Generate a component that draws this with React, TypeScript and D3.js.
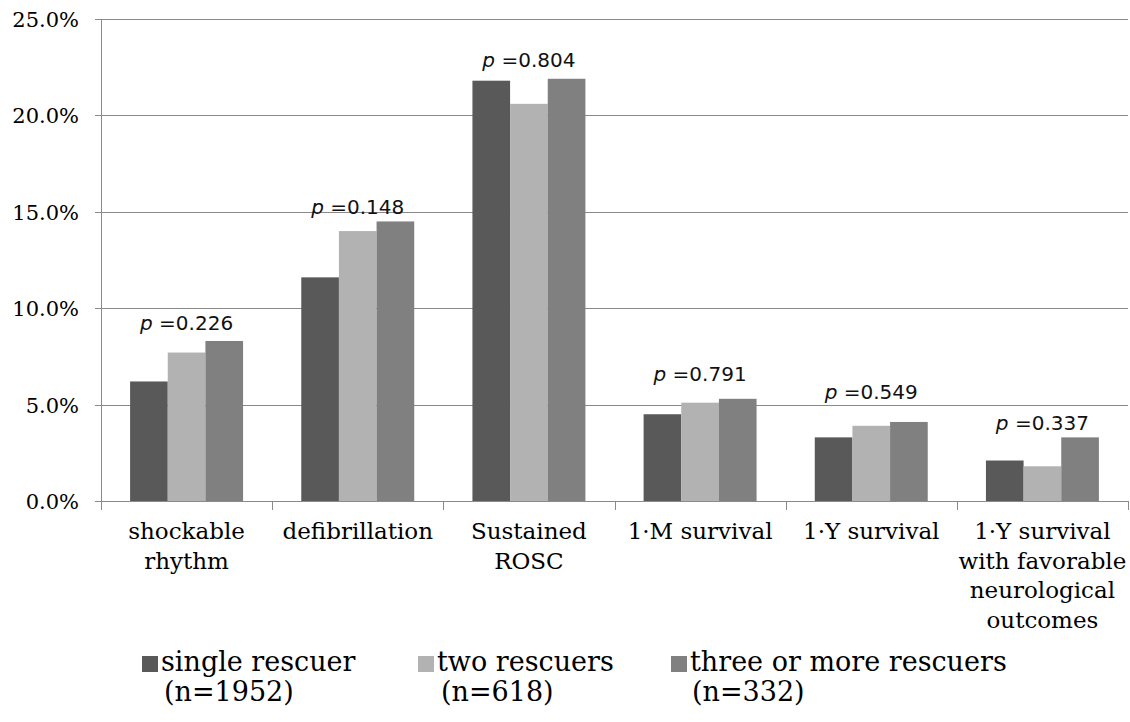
import React from "react";
import * as d3 from "d3";

const categories: string[][] = [
  ["shockable", "rhythm"],
  ["defibrillation"],
  ["Sustained", "ROSC"],
  ["1·M survival"],
  ["1·Y survival"],
  ["1·Y survival", "with favorable", "neurological", "outcomes"],
];
const seriesNames = ["single rescuer", "two rescuers", "three or more rescuers"];
const seriesN = ["(n=1952)", "(n=618)", "(n=332)"];
const single = [6.2, 11.6, 21.8, 4.5, 3.3, 2.1];
const two = [7.7, 14.0, 20.6, 5.1, 3.9, 1.8];
const threePlus = [8.3, 14.5, 21.9, 5.3, 4.1, 3.3];
const pValues = ["0.226", "0.148", "0.804", "0.791", "0.549", "0.337"];
const pLabelLevel = [8.85, 14.9, 22.5, 6.2, 5.27, 3.68];
const yTicks = [0, 5, 10, 15, 20, 25];

const colors = ["#595959", "#b2b2b2", "#808080"];

export default function App() {
  const W = 1130, H = 722;
  const left = 101, right = 1128, top = 19, bottom = 501;
  const series = [single, two, threePlus];
  const keys = categories.map((_, i) => String(i));
  const x0 = d3.scaleBand<string>().domain(keys).range([left, right]).paddingInner(0.34).paddingOuter(0.17);
  const x1 = d3.scaleBand<string>().domain(["0", "1", "2"]).range([0, x0.bandwidth()]).padding(0);
  const y = d3.scaleLinear().domain([0, 25]).range([bottom, top]);
  const step = x0.step();
  const serif = "'DejaVu Serif', serif";
  const sans = "'DejaVu Sans', sans-serif";
  const axisColor = "#8a8a8a";
  const legendSq = [142, 418, 671];
  const legendTx = [161, 437, 690];
  const legendNx = [164, 441, 692];

  return (
    <svg width={W} height={H} style={{ position: "absolute", left: 0, top: 0, background: "#fff" }}>
      <rect x={0} y={0} width={W} height={H} fill="#fff" />
      {yTicks.map((t) => (
        <g key={t}>
          <line x1={left - 6} x2={right} y1={Math.round(y(t)) + 0.5} y2={Math.round(y(t)) + 0.5} stroke={axisColor} strokeWidth={1} />
          <text x={79} y={y(t) + 8} textAnchor="end" fontFamily={serif} fontSize={21} fill="#000">
            {d3.format(".1f")(t) + "%"}
          </text>
        </g>
      ))}
      <line x1={left + 0.5} x2={left + 0.5} y1={top} y2={bottom + 9} stroke={axisColor} />
      {keys.map((k, i) => (
        <line key={k} x1={Math.round(left + step * (i + 1)) + 0.5} x2={Math.round(left + step * (i + 1)) + 0.5} y1={bottom} y2={bottom + 9} stroke={axisColor} />
      ))}
      {series.map((vals, s) =>
        vals.map((v, i) => (
          <rect
            key={s + "-" + i}
            x={(x0(String(i)) ?? 0) + (x1(String(s)) ?? 0)}
            y={y(v)}
            width={x1.bandwidth()}
            height={y(0) - y(v)}
            fill={colors[s]}
          />
        ))
      )}
      {pValues.map((p, i) => (
        <text key={p + i} x={(x0(String(i)) ?? 0) + x0.bandwidth() / 2} y={y(pLabelLevel[i])} textAnchor="middle" fontFamily={sans} fontSize={20} fill="#111">
          <tspan fontStyle="italic">p</tspan>
          <tspan> =</tspan>
          <tspan>{p}</tspan>
        </text>
      ))}
      {categories.map((lines, i) => (
        <text key={i} textAnchor="middle" fontFamily={serif} fontSize={23} fill="#000">
          {lines.map((ln, j) => (
            <tspan key={j} x={(x0(String(i)) ?? 0) + x0.bandwidth() / 2} y={539 + j * 29.5}>
              {ln}
            </tspan>
          ))}
        </text>
      ))}
      {seriesNames.map((n, s) => (
        <g key={n}>
          <rect x={legendSq[s]} y={656} width={16} height={16} fill={colors[s]} />
          <text x={legendTx[s]} y={671} fontFamily={serif} fontSize={27} fill="#000">
            {n}
          </text>
          <text x={legendNx[s]} y={701} fontFamily={serif} fontSize={27} fill="#000">
            {seriesN[s]}
          </text>
        </g>
      ))}
    </svg>
  );
}
